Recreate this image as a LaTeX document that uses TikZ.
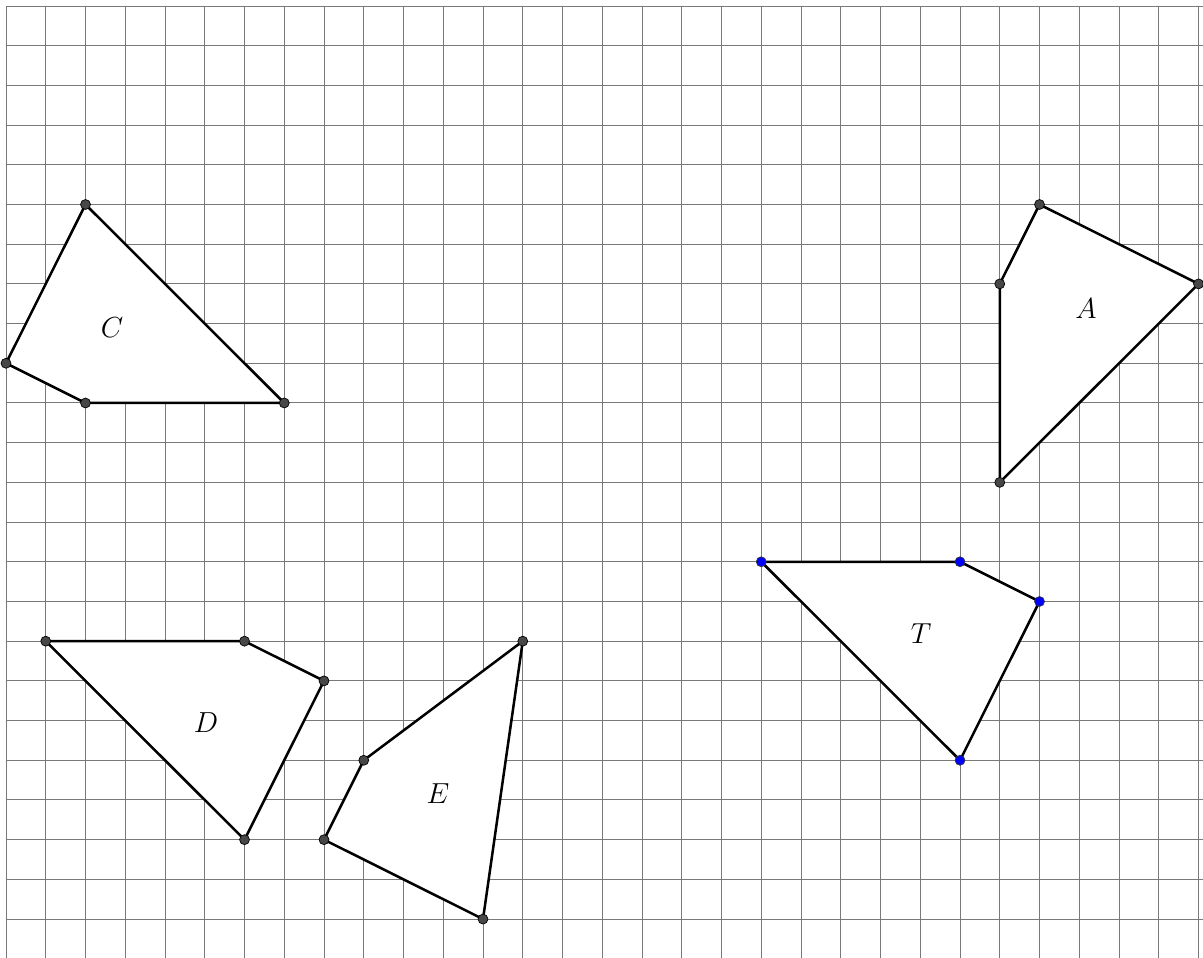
\documentclass[tikz,border=0pt]{standalone}
\begin{document}
\begin{tikzpicture}[x=1cm,y=0.9987cm,
  gridline/.style={draw=gray!95!black,line width=0.7pt},
  poly/.style={draw=black,line width=1.8pt,fill=white,line join=round},
  pt/.style={circle,fill=black!72,draw=black,line width=0.5pt,inner sep=0pt,minimum size=0.25cm},
  bpt/.style={circle,fill=blue,draw=black!80,line width=0.5pt,inner sep=0pt,minimum size=0.25cm},
  lbl/.style={font=\fontsize{21}{25}\selectfont}]
\useasboundingbox (-0.151,0.151) rectangle (30.113,-23.98);
\begin{scope}
\clip (-0.151,0.151) rectangle (30.113,-23.98);
\foreach \i in {0,...,30} \draw[gridline] (\i,0) -- (\i,-24.5);
\foreach \j in {0,...,24} \draw[gridline] (0,-\j) -- (30.5,-\j);
\end{scope}
% polygon C
\coordinate (c1) at (2,-5); \coordinate (c2) at (0,-9); \coordinate (c3) at (2,-10); \coordinate (c4) at (7,-10);
\draw[poly] (c1) -- (c2) -- (c3) -- (c4) -- cycle;
% polygon A
\coordinate (a1) at (26,-5); \coordinate (a2) at (25,-7); \coordinate (a3) at (25,-12); \coordinate (a4) at (30,-7);
\draw[poly] (a1) -- (a2) -- (a3) -- (a4) -- cycle;
% polygon T
\coordinate (t1) at (19,-14); \coordinate (t2) at (24,-14); \coordinate (t3) at (26,-15); \coordinate (t4) at (24,-19);
\draw[poly] (t1) -- (t2) -- (t3) -- (t4) -- cycle;
% polygon D
\coordinate (d1) at (1,-16); \coordinate (d2) at (6,-16); \coordinate (d3) at (8,-17); \coordinate (d4) at (6,-21);
\draw[poly] (d1) -- (d2) -- (d3) -- (d4) -- cycle;
% polygon E
\coordinate (e1) at (13,-16); \coordinate (e2) at (9,-19); \coordinate (e3) at (8,-21); \coordinate (e4) at (12,-23);
\draw[poly] (e1) -- (e2) -- (e3) -- (e4) -- cycle;
% points
\foreach \p in {c1,c2,c3,c4,a1,a2,a3,a4,d1,d2,d3,d4,e1,e2,e3,e4} \node[pt] (n\p) at (\p) {};
\foreach \p in {t1,t2,t3,t4} \node[bpt] (n\p) at (\p) {};
% labels
\node[lbl] (lC) at (2.67,-8.09) {$C$};
\node[lbl] (lA) at (27.17,-7.61) {$A$};
\node[lbl] (lT) at (23.02,-15.82) {$T$};
\node[lbl] (lD) at (5.03,-18.06) {$D$};
\node[lbl] (lE) at (10.87,-19.85) {$E$};
\end{tikzpicture}
\end{document}
